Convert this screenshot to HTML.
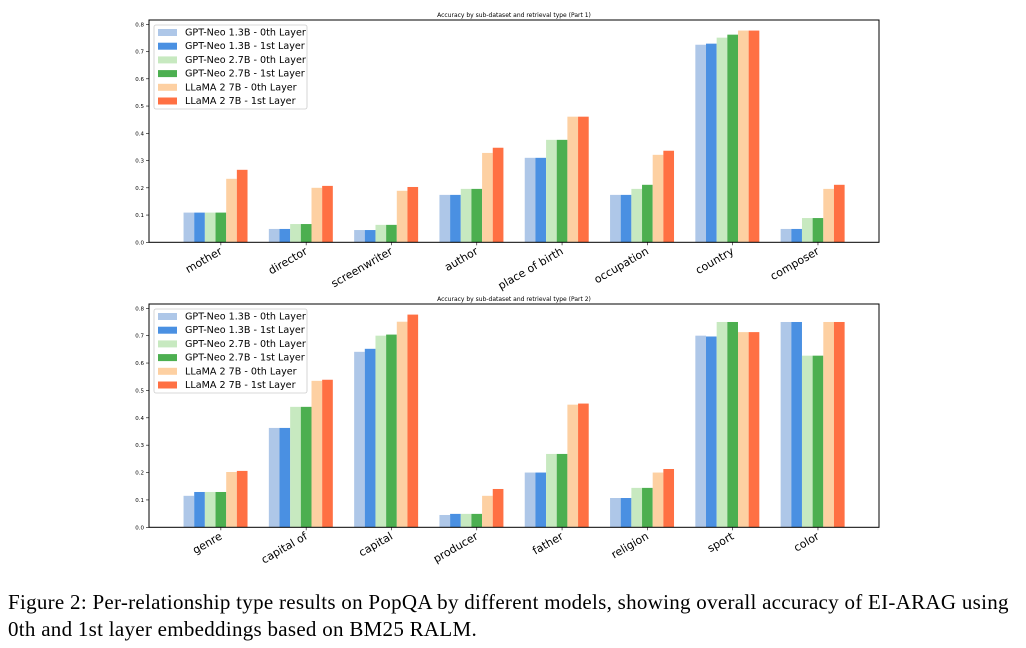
<!DOCTYPE html>
<html><head><meta charset="utf-8"><style>
body{margin:0;background:#fff;width:1026px;height:648px;overflow:hidden;position:relative;font-family:"DejaVu Sans","Liberation Sans",sans-serif}
.cap{position:absolute;left:8px;font-family:"Liberation Serif",serif;font-size:21px;letter-spacing:0.28px;color:#000;white-space:nowrap}
</style></head><body>
<svg id="chart" width="1026" height="580" style="position:absolute;left:0;top:0"></svg>
<div class="cap" style="top:590px">Figure 2: Per-relationship type results on PopQA by different models, showing overall accuracy of EI-ARAG using</div>
<div class="cap" style="top:617px">0th and 1st layer embeddings based on BM25 RALM.</div>
<script>
const seriesNames=["GPT-Neo 1.3B - 0th Layer","GPT-Neo 1.3B - 1st Layer","GPT-Neo 2.7B - 0th Layer","GPT-Neo 2.7B - 1st Layer","LLaMA 2 7B - 0th Layer","LLaMA 2 7B - 1st Layer"];
const colors=["#aec7e8","#4a90e2","#c7e9c0","#4caf50","#fdd0a2","#ff7043"];
const cats1=["mother","director","screenwriter","author","place of birth","occupation","country","composer"];
const neo13_0_p1=[0.109,0.049,0.045,0.174,0.31,0.174,0.725,0.049];
const neo13_1_p1=[0.109,0.049,0.045,0.174,0.31,0.174,0.729,0.049];
const neo27_0_p1=[0.109,0.067,0.064,0.196,0.376,0.196,0.751,0.089];
const neo27_1_p1=[0.109,0.067,0.064,0.196,0.376,0.211,0.762,0.089];
const llama_0_p1=[0.233,0.200,0.189,0.328,0.461,0.321,0.777,0.196];
const llama_1_p1=[0.266,0.207,0.203,0.347,0.461,0.336,0.777,0.211];
const cats2=["genre","capital of","capital","producer","father","religion","sport","color"];
const neo13_0_p2=[0.115,0.363,0.641,0.045,0.200,0.107,0.700,0.750];
const neo13_1_p2=[0.129,0.363,0.652,0.049,0.200,0.107,0.697,0.750];
const neo27_0_p2=[0.129,0.440,0.700,0.049,0.268,0.144,0.750,0.627];
const neo27_1_p2=[0.129,0.440,0.704,0.049,0.268,0.144,0.750,0.627];
const llama_0_p2=[0.202,0.535,0.751,0.115,0.448,0.200,0.713,0.750];
const llama_1_p2=[0.206,0.539,0.777,0.140,0.452,0.213,0.713,0.750];
const yTicks=[0,0.1,0.2,0.3,0.4,0.5,0.6,0.7,0.8];
const NS="http://www.w3.org/2000/svg";
const svg=document.getElementById("chart");
function mk(tag,attrs,parent){const e=document.createElementNS(NS,tag);for(const k in attrs)e.setAttribute(k,attrs[k]);(parent||svg).appendChild(e);return e;}
function draw(top,y0,title,cats,series,tag){
  const L=149,R=879,B=y0,perUnit=(y0-top-4.3)/0.8;
  const g=mk("g",{});
  
  
  const xs=i=>L+(i+0.78)*85.3;
  const ys=v=>B-v*perUnit;
  const bw=85.3*0.125;
  const t=mk("text",{x:514,y:top-3,"font-size":"6","text-anchor":"middle",fill:"#000"},g);t.textContent=title;
  
  
  series.forEach((vals,s)=>{vals.forEach((v,i)=>{
    const r=mk("rect",{x:xs(i)-3*bw+s*bw,y:ys(v),width:bw,height:v*perUnit,fill:colors[s]},g);
    
    
  });});
  mk("rect",{x:L,y:top,width:R-L,height:B-top,fill:"none",stroke:"#000","stroke-width":"1"},g);
  yTicks.forEach(v=>{
    const y=ys(v);
    mk("line",{x1:L-3,x2:L,y1:y,y2:y,stroke:"#000","stroke-width":"0.6"},g);
    const tx=mk("text",{x:L-5,y:y+2,"font-size":"5.5","text-anchor":"end",fill:"#000"},g);tx.textContent=v.toFixed(1);
    
    
  });
  cats.forEach((c,i)=>{
    const x=xs(i)+0.5*bw;
    mk("line",{x1:x,x2:x,y1:B,y2:B+3,stroke:"#000","stroke-width":"0.6"},g);
    const tx=mk("text",{x:0,y:0,"font-size":"11","text-anchor":"end",fill:"#000",transform:`translate(${x+2},${B+11}) rotate(-30)`},g);tx.textContent=c;
    
    
  });
  const lg=mk("g",{},g);
  
  
  mk("rect",{x:154,y:top+5,width:153,height:84,fill:"#fff","fill-opacity":"0.8",stroke:"#ccc","stroke-width":"0.8",rx:2},lg);
  seriesNames.forEach((n,s)=>{
    const yy=top+12+s*13.7;
    mk("rect",{x:158,y:yy-3,width:19,height:7,fill:colors[s]},lg);
    const tx=mk("text",{x:185,y:yy+3.5,"font-size":"9.6",fill:"#000"},lg);tx.textContent=n;
    
    
  });
}
draw(20,242.3,"Accuracy by sub-dataset and retrieval type (Part 1)",cats1,[neo13_0_p1,neo13_1_p1,neo27_0_p1,neo27_1_p1,llama_0_p1,llama_1_p1],"part1");
draw(304,527.3,"Accuracy by sub-dataset and retrieval type (Part 2)",cats2,[neo13_0_p2,neo13_1_p2,neo27_0_p2,neo27_1_p2,llama_0_p2,llama_1_p2],"part2");
</script>
</body></html>
